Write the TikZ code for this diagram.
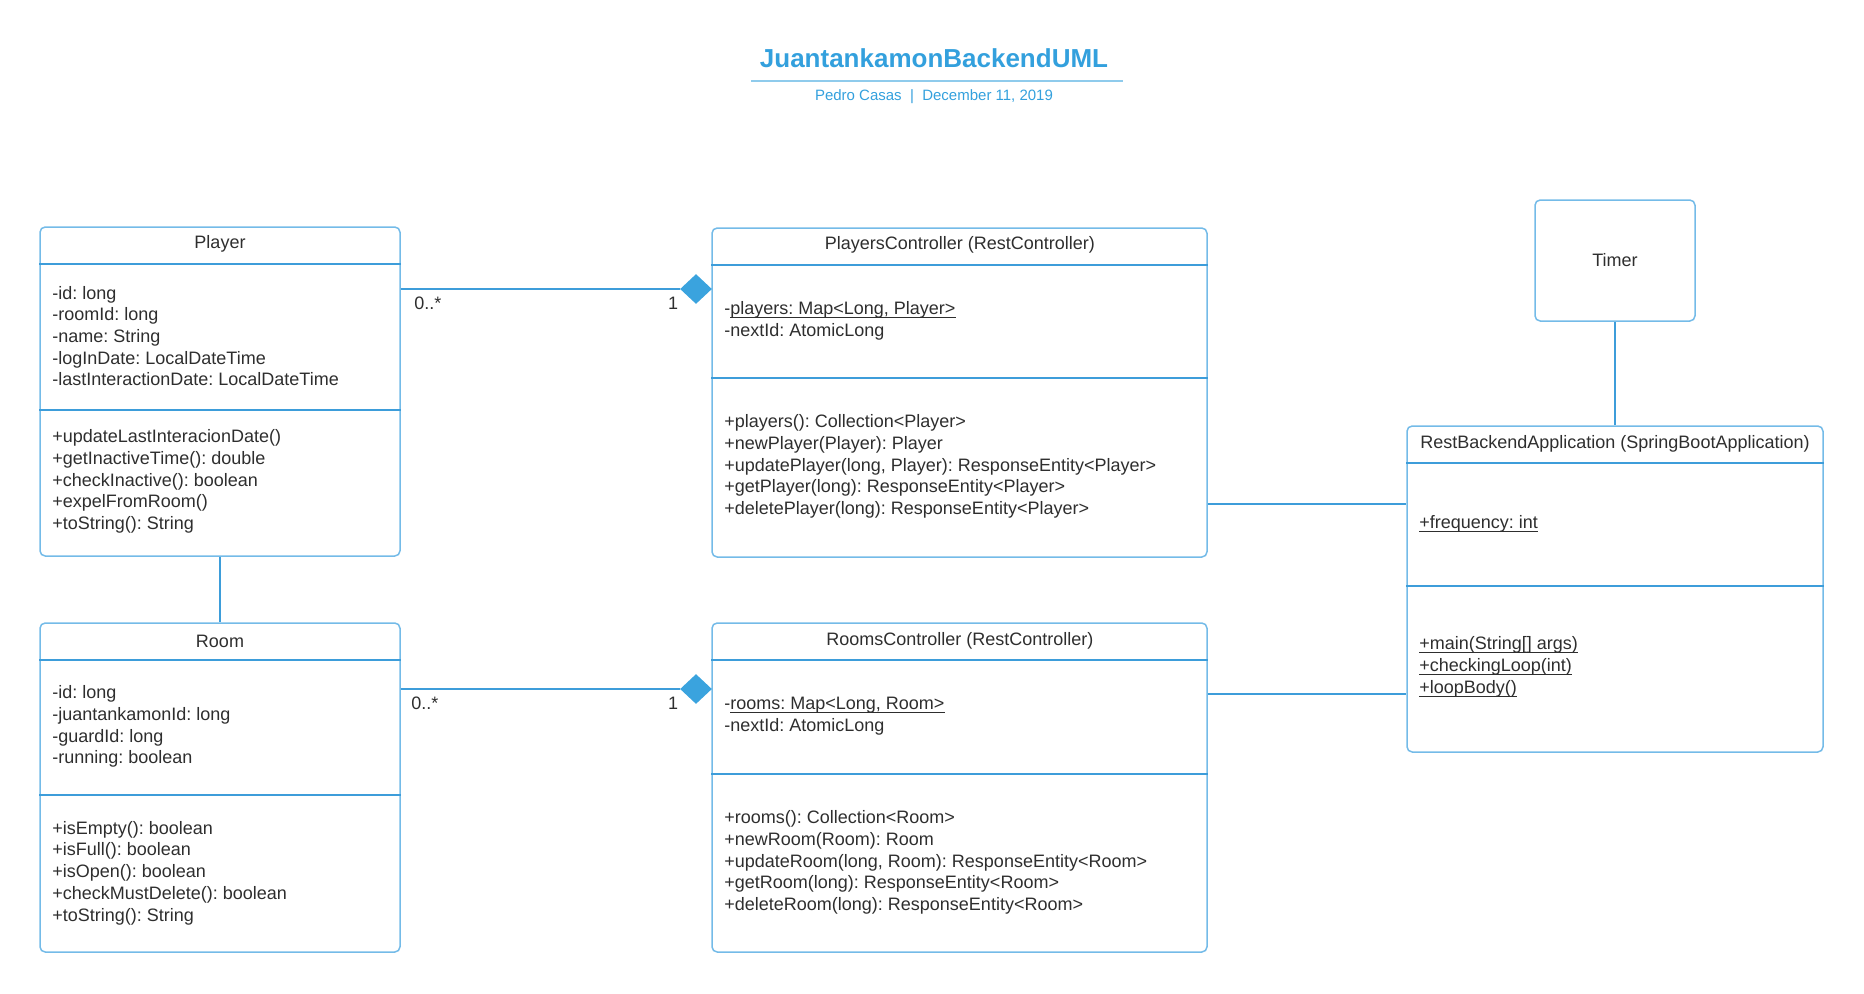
\documentclass[tikz,border=0pt]{standalone}
\usepackage{fontspec}
\setmainfont{Liberation Sans}
\usetikzlibrary{fit,shapes.geometric}
\definecolor{boxc}{HTML}{74BBE8}
\definecolor{linec}{HTML}{3D9DDA}
\definecolor{diamc}{HTML}{3AA3DE}
\definecolor{titlec}{HTML}{33A0DD}
\definecolor{txtc}{HTML}{2E2E2E}
\newsavebox\ulbox
\newcommand\ulx[1]{\sbox\ulbox{#1}\rlap{\rule[-1.6pt]{\wd\ulbox}{0.5pt}}\usebox\ulbox}
\frenchspacing
\begin{document}
\frenchspacing
\begin{tikzpicture}[x=0.5pt,y=-0.5pt,
  classbox/.style={draw=boxc, line width=0.75pt, rounded corners=2.6pt, inner sep=0pt},
  sepline/.style={draw=linec, line width=0.6pt},
  conn/.style={draw=linec, line width=0.6pt},
  hdr/.style={font=\fontsize{9}{10.85}\selectfont\frenchspacing, text=txtc, inner sep=0pt, yshift=-0.6pt},
  body/.style={font=\fontsize{9}{10.85}\selectfont\frenchspacing, text=txtc, inner sep=0pt, anchor=west, align=left, yshift=-0.5pt},
  mult/.style={font=\fontsize{9}{10.85}\selectfont, text=txtc, inner sep=0pt, yshift=-0.5pt},
  agg/.style={diamond, fill=diamc, draw=none, minimum width=16pt, minimum height=15pt, inner sep=0pt}
]
\useasboundingbox (0,0) rectangle (1864,993);

% title
\node[font=\fontsize{13}{15}\selectfont\bfseries, text=titlec, inner sep=0pt] (title) at (934,58) {JuantankamonBackendUML};
\coordinate (ul1) at (751,81);
\coordinate (ul2) at (1123,81);
\draw[draw=titlec!55, line width=0.9pt] (ul1) -- (ul2);
\node[font=\fontsize{7.5}{9}\selectfont, text=titlec, inner sep=0pt, yshift=-0.8pt] (sub) at (934,95) {Pedro Casas\ \ |\ \ December 11, 2019};

% Player
\node[classbox, fit={(40,227) (400,556)}] (player) {};
\draw[sepline] (player.west |- 0,264) -- (player.east |- 0,264);
\draw[sepline] (player.west |- 0,410) -- (player.east |- 0,410);
\node[hdr] (playerh) at (220,243) {Player};
\node[body] (playera) at (52,335) {-id: long\\-roomId: long\\-name: String\\-logInDate: LocalDateTime\\-lastInteractionDate: LocalDateTime};
\node[body] (playerm) at (52,480.5) {+updateLastInteracionDate()\\+getInactiveTime(): double\\+checkInactive(): boolean\\+expelFromRoom()\\+toString(): String};

% Room
\node[classbox, fit={(40,623) (400,952)}] (room) {};
\draw[sepline] (room.west |- 0,660) -- (room.east |- 0,660);
\draw[sepline] (room.west |- 0,795) -- (room.east |- 0,795);
\node[hdr] (roomh) at (220,640) {Room};
\node[body] (rooma) at (52,725.5) {-id: long\\-juantankamonId: long\\-guardId: long\\-running: boolean};
\node[body] (roomm) at (52,872) {+isEmpty(): boolean\\+isFull(): boolean\\+isOpen(): boolean\\+checkMustDelete(): boolean\\+toString(): String};

% PlayersController
\node[classbox, fit={(712,228) (1207,557)}] (pc) {};
\draw[sepline] (pc.west |- 0,265) -- (pc.east |- 0,265);
\draw[sepline] (pc.west |- 0,378) -- (pc.east |- 0,378);
\node[hdr] (pch) at (960,244) {PlayersController (RestController)};
\node[body] (pca) at (724,320) {-\ulx{players: Map<Long, Player>}\\-nextId: AtomicLong};
\node[body] (pcm) at (724,465.5) {+players(): Collection<Player>\\+newPlayer(Player): Player\\+updatePlayer(long, Player): ResponseEntity<Player>\\+getPlayer(long): ResponseEntity<Player>\\+deletePlayer(long): ResponseEntity<Player>};

% RoomsController
\node[classbox, fit={(712,623) (1207,952)}] (rc) {};
\draw[sepline] (rc.west |- 0,660) -- (rc.east |- 0,660);
\draw[sepline] (rc.west |- 0,774) -- (rc.east |- 0,774);
\node[hdr] (rch) at (960,640) {RoomsController (RestController)};
\node[body] (rca) at (724,715) {-\ulx{rooms: Map<Long, Room>}\\-nextId: AtomicLong};
\node[body] (rcm) at (724,861.5) {+rooms(): Collection<Room>\\+newRoom(Room): Room\\+updateRoom(long, Room): ResponseEntity<Room>\\+getRoom(long): ResponseEntity<Room>\\+deleteRoom(long): ResponseEntity<Room>};

% RestBackendApplication
\node[classbox, fit={(1407,426) (1823,752)}] (rb) {};
\draw[sepline] (rb.west |- 0,463) -- (rb.east |- 0,463);
\draw[sepline] (rb.west |- 0,586) -- (rb.east |- 0,586);
\node[hdr] (rbh) at (1615,443) {RestBackendApplication (SpringBootApplication)};
\node[body] (rba) at (1419,523) {\ulx{+frequency: int}};
\node[body] (rbm) at (1419,666) {\ulx{+main(String[] args)}\\\ulx{+checkingLoop(int)}\\\ulx{+loopBody()}};

% Timer
\node[classbox, fit={(1535,200) (1695,321)}] (timer) {};
\node[hdr] (timert) at (1615,259) {Timer};

% aggregations
\node[agg] (d1) at (696,289) {};
\node[agg] (d2) at (696,689) {};
\draw[conn] (player.east |- d1.west) -- (d1.west);
\draw[conn] (room.east |- d2.west) -- (d2.west);
\node[mult, anchor=west] (m1) at (414,302) {0..*};
\node[mult] (o1) at (673,302) {1};
\node[mult, anchor=west] (m2) at (411,702) {0..*};
\node[mult] (o2) at (673,702) {1};

% other connectors
\draw[conn] (player.south) -- (room.north);
\draw[conn] (timer.south) -- (timer.south |- rb.north);
\coordinate (y1) at (0,504);
\coordinate (y2) at (0,694);
\draw[conn] (pc.east |- y1) -- (rb.west |- y1);
\draw[conn] (rc.east |- y2) -- (rb.west |- y2);
\end{tikzpicture}
\end{document}
